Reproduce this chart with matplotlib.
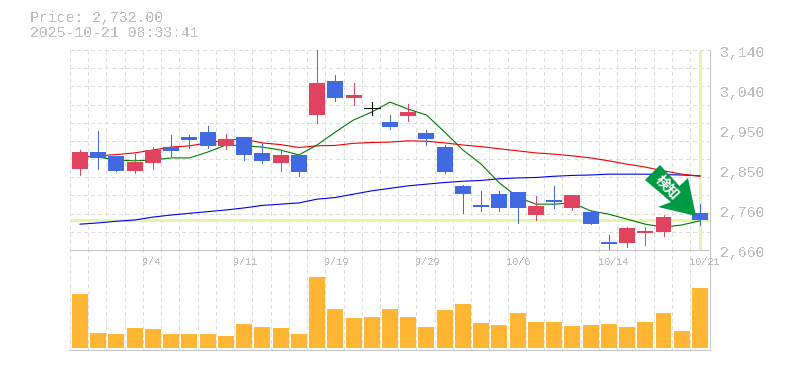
import numpy as np
import matplotlib
matplotlib.use('Agg')
import matplotlib.pyplot as plt
from matplotlib.patches import Polygon
from matplotlib.transforms import IdentityTransform

plt.rcParams['text.antialiased'] = False
plt.rcParams['lines.antialiased'] = False
plt.rcParams['patch.antialiased'] = False

# daily prices
opens = [2854, 2895, 2886, 2850, 2869, 2907, 2931, 2943, 2910, 2931, 2893, 2869, 2888, 2984, 3066, 3025, 3001, 2967, 2982, 2941, 2907, 2814, 2768, 2794, 2799, 2744, 2780, 2761, 2751, 2679, 2677, 2701, 2703, 2810, 2749]
highs = [2900, 2946, 2886, 2890, 2907, 2936, 2936, 2958, 2938, 2931, 2917, 2900, 2888, 3140, 3080, 3061, 3015, 2984, 3010, 2948, 2912, 2816, 2802, 2802, 2799, 2790, 2814, 2792, 2756, 2696, 2715, 2715, 2744, 2816, 2770]
lows = [2840, 2854, 2850, 2845, 2854, 2886, 2905, 2905, 2902, 2876, 2869, 2850, 2838, 2965, 3018, 3008, 2984, 2950, 2970, 2912, 2845, 2749, 2754, 2754, 2725, 2732, 2761, 2756, 2722, 2658, 2667, 2672, 2694, 2768, 2720]
closes = [2895, 2881, 2850, 2871, 2900, 2898, 2924, 2910, 2926, 2888, 2874, 2888, 2847, 3061, 3025, 3032, 3001, 2955, 2991, 2926, 2847, 2794, 2763, 2761, 2761, 2766, 2775, 2792, 2722, 2674, 2713, 2706, 2739, 2780, 2732]
up = [1, 0, 0, 1, 1, 0, 0, 0, 1, 0, 0, 1, 0, 1, 0, 1, 0, 0, 1, 0, 0, 0, 0, 0, 0, 1, 0, 1, 0, 0, 1, 1, 1, 0, 0]
volumes = [54, 15, 14, 20, 19, 14, 14, 14, 12, 24, 21, 20, 14, 71, 39, 30, 31, 39, 31, 21, 38, 44, 25, 23, 35, 26, 26, 22, 23, 24, 21, 26, 35, 17, 60]

ma_short = [np.nan, 2883, 2876, 2874, 2876, 2881, 2881, 2895, 2912, 2910, 2907, 2900, 2888, 2912, 2943, 2972, 2991, 3015, 2998, 2984, 2943, 2900, 2866, 2821, 2787, 2770, 2770, 2773, 2754, 2746, 2734, 2722, 2715, 2720, 2730]
ma_mid = [2883, 2886, 2889, 2893, 2900, 2907, 2910, 2917, 2924, 2926, 2917, 2913, 2906, 2910, 2911, 2916, 2918, 2919, 2922, 2921, 2917, 2912, 2908, 2903, 2898, 2893, 2890, 2886, 2881, 2874, 2866, 2859, 2850, 2842, 2837]
ma_long = [2722, 2725, 2729, 2732, 2739, 2744, 2748, 2752, 2756, 2761, 2767, 2770, 2773, 2782, 2786, 2794, 2802, 2808, 2814, 2818, 2822, 2825, 2827, 2831, 2833, 2834, 2837, 2839, 2840, 2842, 2842, 2842, 2841, 2840, 2838]

date_pos = [4, 9, 14, 19, 24, 29, 34]
date_labels = ['9/4', '9/11', '9/19', '9/29', '10/6', '10/14', '10/21']
price_ticks = [3140, 3044, 2948, 2852, 2756, 2660]
price_labels = ['3,140', '3,040', '2,950', '2,850', '2,760', '2,660']
last_price = 2732

RED = '#e0435f'
BLUE = '#4169e1'
YELLOW = '#e3f5a8'
GRID = '#dddddd'
TEXT = '#bdbdbd'
MONO = 'Liberation Mono'
THIN = 0.45  # about one pixel once antialiasing is off

W, H = 785, 370
fig = plt.figure(figsize=(W / 100, H / 100), dpi=100)
ax = fig.add_axes([70 / W, 1 - 250 / H, 640 / W, 200 / H])
ax_v = fig.add_axes([70 / W, 1 - 350 / H, 640 / W, 100 / H])

n = len(closes)
x = np.arange(n)
# grid sits 10px left of each candle centre, slots are 18.235px wide
left, right = -0.548, 34.55
grid_x = x - 0.548

for a in (ax, ax_v):
    a.set_xlim(left, right)
    a.set_xticks(grid_x)
    a.set_xticklabels([])
    a.tick_params(length=0)
    a.grid(True, axis='x', color=GRID, lw=THIN, ls=(0, (6, 6)))
    a.set_axisbelow(True)
    for s in a.spines.values():
        s.set_visible(False)
    for side in ('right', 'bottom', 'top'):
        a.spines[side].set_visible(side != 'top' or a is ax_v)
        a.spines[side].set_color('#c4c4c4')
        a.spines[side].set_linewidth(THIN)

ax.set_ylim(2660, 3140)
ax.set_yticks(np.linspace(2660, 3140, 12))
ax.set_yticklabels([])
ax.grid(True, axis='y', color=GRID, lw=THIN, ls=(0, (6, 6)))

# current price cross
ax.axhline(last_price, color=YELLOW, lw=2.16, zorder=1.5, antialiased=True)
ax.plot([n - 1, n - 1], [2665, 3135], color=YELLOW, lw=2.16, zorder=1.5, antialiased=True)

ax.plot(x, ma_long, color='#0000ee', lw=0.8, zorder=2, antialiased=True)
ax.plot(x, ma_mid, color='#ee0000', lw=0.8, zorder=2.1, antialiased=True)
ax.plot(x, ma_short, color='#007a00', lw=0.8, zorder=2.2, antialiased=True)

for i in range(n):
    col = RED if up[i] else BLUE
    if opens[i] == closes[i]:
        col = 'black'
    ax.plot([i, i], [lows[i], highs[i]], color=col, lw=THIN, zorder=3, clip_on=False, solid_capstyle='butt')
    lo, hi = min(opens[i], closes[i]), max(opens[i], closes[i])
    if hi == lo:
        ax.plot([i - 0.44, i + 0.44], [hi, hi], color=col, lw=THIN, zorder=3)
    else:
        ax.bar(i, hi - lo, bottom=lo, width=0.877, color=col, lw=0, zorder=3)

for p, lab in zip(price_ticks, price_labels):
    ax.annotate(lab, (1, p), xycoords=ax.get_yaxis_transform(), xytext=(7.2, -2.2),
                textcoords='offset points', family=MONO, fontsize=10.7, color=TEXT,
                ha='left', va='center', annotation_clip=False)

ax_v.set_ylim(-2, 98)
ax_v.set_yticks([])
ax_v.bar(x, volumes, width=0.877, color='#ffb733', lw=0, zorder=3)
for p, lab in zip(date_pos, date_labels):
    ax_v.text(p - 0.6, 0.88, lab, transform=ax_v.get_xaxis_transform(), family=MONO,
              fontsize=7.3, color=TEXT, ha='left', va='center', zorder=4)

fig.text(30 / W, 1 - 18 / H, 'Price: 2,732.00', family=MONO, fontsize=10.7, color=TEXT, va='center')
fig.text(30 / W, 1 - 33 / H, '2025-10-21 08:33:41', family=MONO, fontsize=10.7, color=TEXT, va='center')

# signal badge, drawn in pixels from the top left
arrow_px = [(660, 165), (645, 180), (671, 202), (658, 207), (696, 216), (688, 178), (679.5, 186)]
arrow_px = [(px, H - py) for px, py in arrow_px]
fig.add_artist(Polygon(arrow_px, closed=True, facecolor='#009a44', edgecolor='none', lw=0,
                       transform=IdentityTransform(), zorder=10, antialiased=True))
fig.text(667 / W, 1 - 187 / H, '検知', family=['Noto Sans CJK JP', 'DejaVu Sans'], fontsize=10, weight='bold',
         color='white', rotation=-47, rotation_mode='anchor', ha='center', va='center', zorder=11,
         antialiased=True)

fig.savefig('out.png', dpi=100)
